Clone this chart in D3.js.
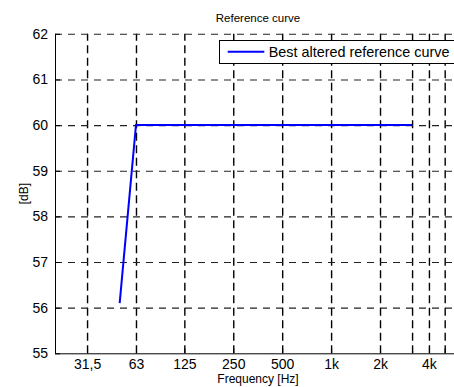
<!DOCTYPE html>
<html>
<head>
<meta charset="utf-8">
<script src="https://cdn.jsdelivr.net/npm/d3@7"></script>
<style>
  html, body { margin: 0; padding: 0; background: #fff; }
  svg { display: block; font-family: "Liberation Sans", Arial, sans-serif; }
</style>
</head>
<body>
<svg id="chart" width="454" height="387"></svg>
<script>
// Third-octave band centre frequencies (Hz) and the altered reference curve (dB)
const frequencies = [50, 63, 80, 100, 125, 160, 200, 250, 315, 400, 500, 630, 800, 1000, 1250, 1600, 2000, 2500, 3150];
const curveValues = [56.1, 60, 60, 60, 60, 60, 60, 60, 60, 60, 60, 60, 60, 60, 60, 60, 60, 60, 60];

// Axis ticks
const xTickValues = [31.5, 63, 125, 250, 500, 1000, 2000, 3150, 4000, 5000];
const xTickLabels = ["31,5", "63", "125", "250", "500", "1k", "2k", "", "4k", ""];
const yTickValues = [55, 56, 57, 58, 59, 60, 61, 62];

const titleText = "Reference curve";
const xLabelText = "Frequency [Hz]";
const yLabelText = "[dB]";
const seriesName = "Best altered reference curve";

const svg = d3.select("#chart");
const plotLeft = 55, plotRight = 461, plotTop = 33.8, plotBottom = 353.3;

const x = d3.scaleLog().domain([20, 6300]).range([plotLeft, plotRight]);
const y = d3.scaleLinear().domain([55, 62]).range([plotBottom, plotTop]);

svg.append("rect").attr("width", 454).attr("height", 387).attr("fill", "#fff");

// Dashed grid: vertical at each frequency tick, horizontal at each dB tick
const vGrid = svg.append("g")
  .attr("transform", `translate(0,${plotBottom})`)
  .call(d3.axisBottom(x).tickValues(xTickValues).tickSize(-(plotBottom - plotTop)).tickFormat(""));
vGrid.select(".domain").remove();
vGrid.selectAll(".tick line")
  .attr("stroke", "#000").attr("stroke-width", 1.4).attr("stroke-dasharray", "8,4.5");

const hGrid = svg.append("g")
  .attr("transform", `translate(${plotLeft},0)`)
  .call(d3.axisLeft(y).tickValues(yTickValues.filter(v => v > 55)).tickSize(-(plotRight - plotLeft)).tickFormat(""));
hGrid.select(".domain").remove();
hGrid.selectAll(".tick line")
  .attr("stroke", "#222").attr("stroke-width", 1.1).attr("stroke-dasharray", "7,6");

// Curve
const line = d3.line().x(d => x(d[0])).y(d => y(d[1]));
svg.append("path")
  .datum(frequencies.map((f, i) => [f, curveValues[i]]))
  .attr("d", line)
  .attr("fill", "none")
  .attr("stroke", "#0000ff")
  .attr("stroke-width", 2);

// Axes with inward ticks
const xAxis = svg.append("g")
  .attr("transform", `translate(0,${plotBottom})`)
  .call(d3.axisBottom(x).tickValues(xTickValues)
    .tickFormat((d, i) => xTickLabels[i]).tickSizeInner(-5).tickSizeOuter(0).tickPadding(6));
xAxis.select(".domain").attr("d", `M${plotLeft},0.5H${plotRight}`).attr("stroke", "#000");
xAxis.selectAll(".tick line").attr("stroke", "#000");
xAxis.selectAll(".tick text").attr("font-size", 14).attr("fill", "#000")
  .attr("font-family", "Liberation Sans, Arial, sans-serif");

const yAxis = svg.append("g")
  .attr("transform", `translate(${plotLeft},0)`)
  .call(d3.axisLeft(y).tickValues(yTickValues)
    .tickFormat(d3.format("d")).tickSizeInner(-5).tickSizeOuter(0).tickPadding(7));
yAxis.select(".domain").attr("d", `M0.5,${plotTop}V${plotBottom}`).attr("stroke", "#000");
yAxis.selectAll(".tick line").attr("stroke", "#000");
yAxis.selectAll(".tick text").attr("font-size", 14).attr("fill", "#000")
  .attr("font-family", "Liberation Sans, Arial, sans-serif");

// Titles
svg.append("text").attr("x", (plotLeft + plotRight) / 2).attr("y", 22)
  .attr("text-anchor", "middle").attr("font-size", 11.5).text(titleText);
svg.append("text").attr("x", (plotLeft + plotRight) / 2).attr("y", 383)
  .attr("text-anchor", "middle").attr("font-size", 12).text(xLabelText);
svg.append("text")
  .attr("transform", `translate(28,${(plotTop + plotBottom) / 2}) rotate(-90)`)
  .attr("text-anchor", "middle").attr("font-size", 12).text(yLabelText);

// Legend
const legend = svg.append("g");
const legendText = legend.append("text")
  .attr("x", 268.7).attr("y", 56.5).attr("font-size", 14.4).text(seriesName);
const textW = legendText.node().getComputedTextLength();
legend.insert("rect", "text")
  .attr("x", 219.5).attr("y", 40.5)
  .attr("width", 268.7 + textW + 7 - 219.5).attr("height", 23)
  .attr("fill", "#fff").attr("stroke", "#000").attr("stroke-width", 1);
legend.append("line")
  .attr("x1", 227.7).attr("x2", 264.3).attr("y1", 51.7).attr("y2", 51.7)
  .attr("stroke", "#0000ff").attr("stroke-width", 2);
</script>
</body>
</html>
